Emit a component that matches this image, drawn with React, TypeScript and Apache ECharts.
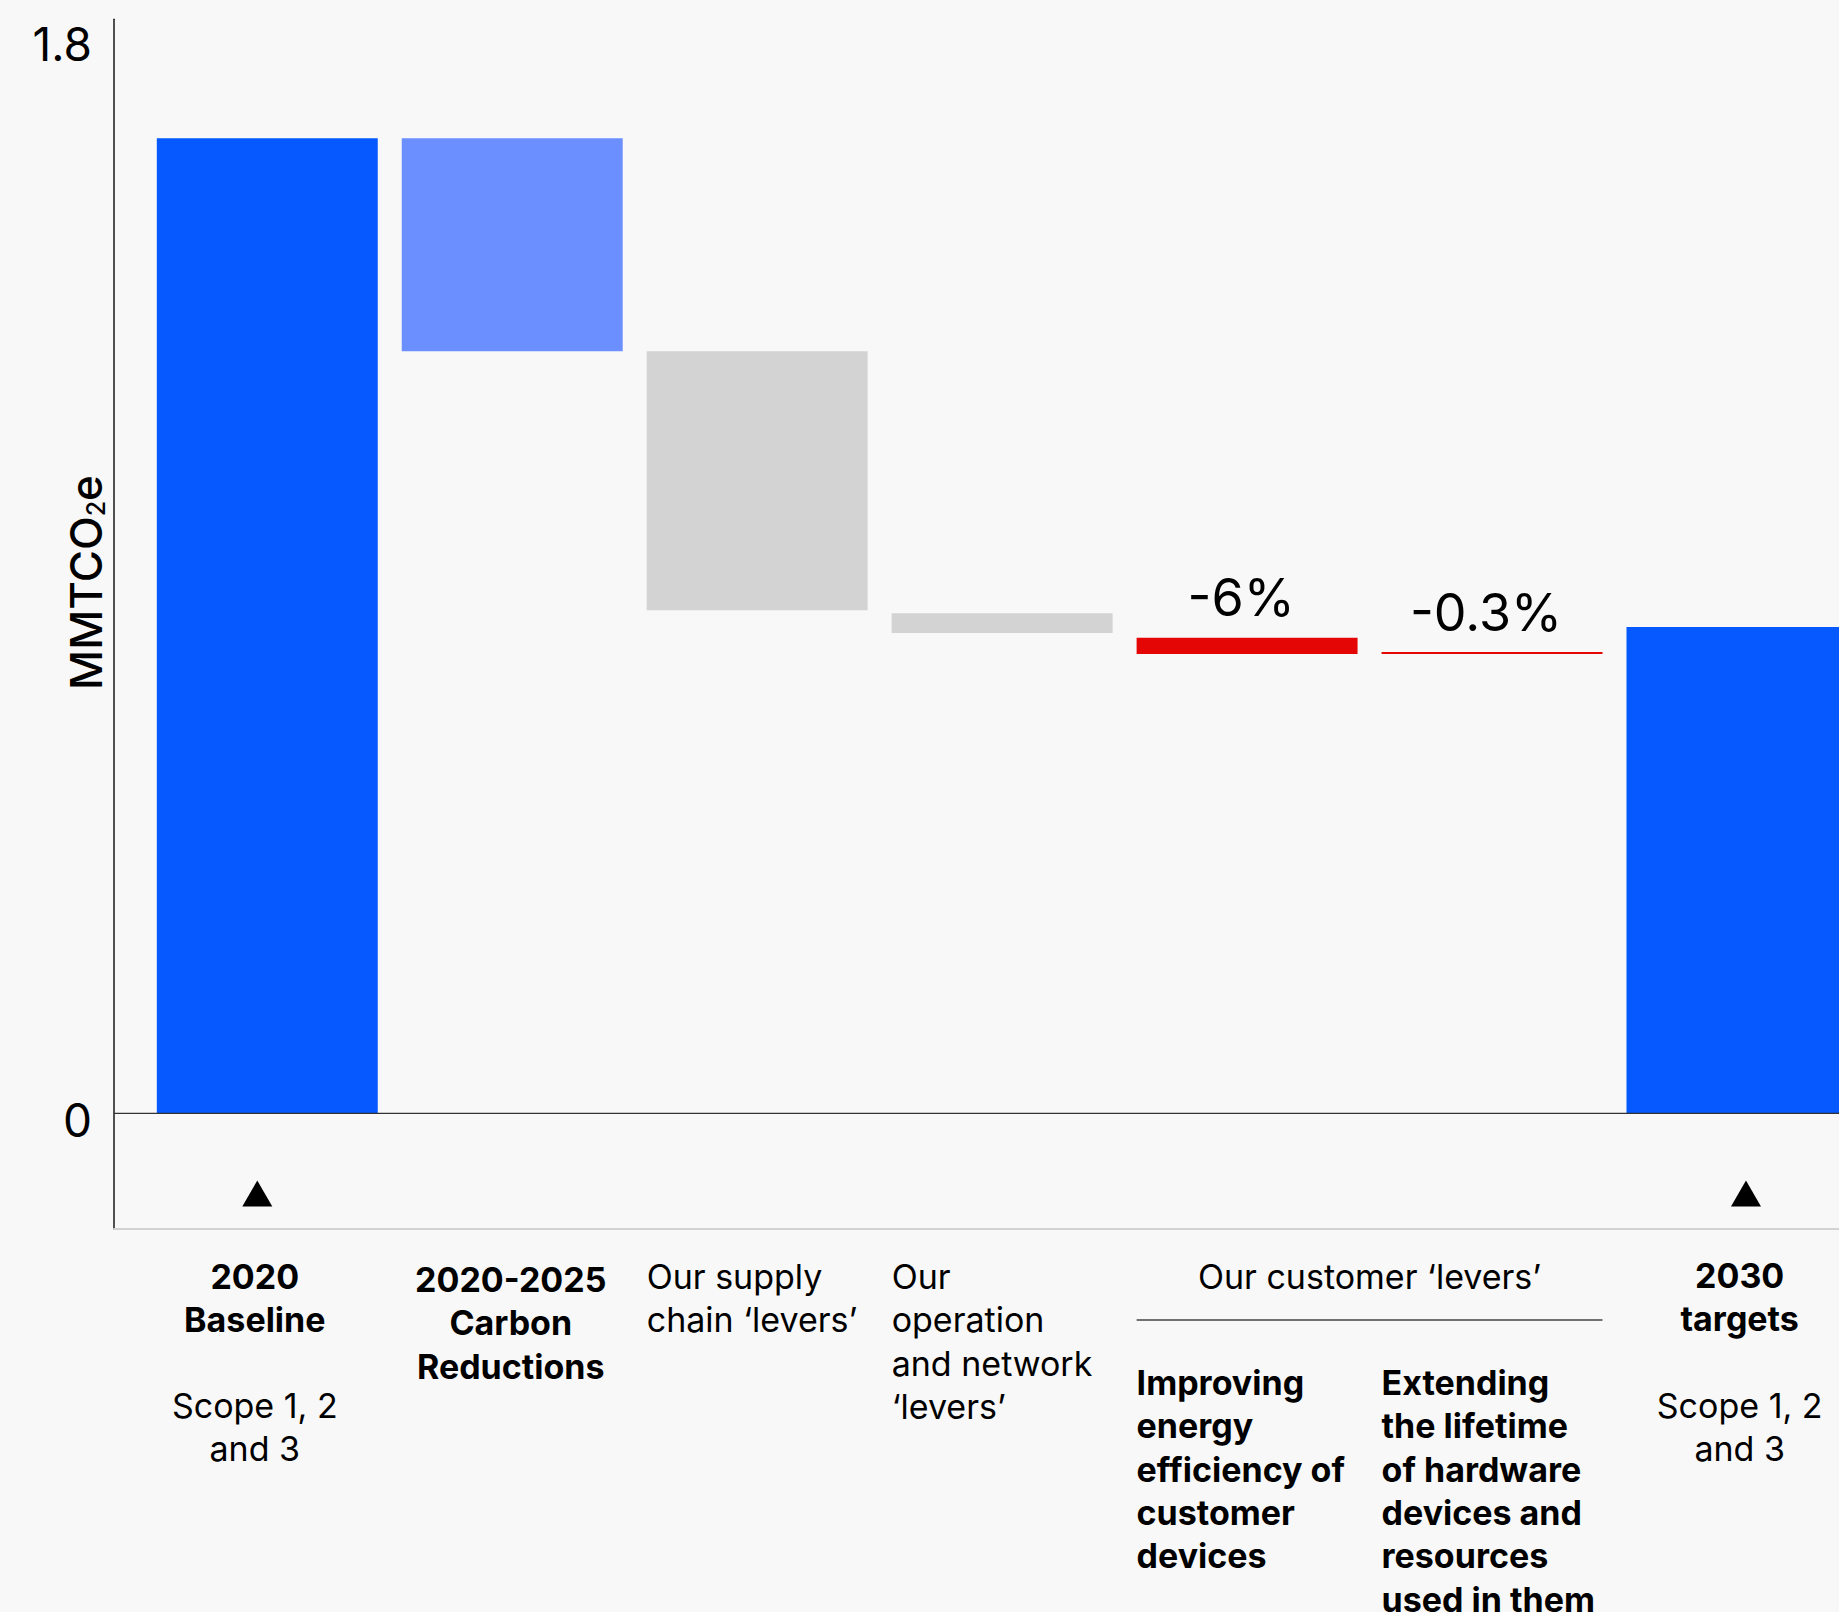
import React, { useEffect, useRef } from "react";
import * as echarts from "echarts";

// ---------- data ----------
const categories = [
  "2020 Baseline",
  "2020-2025 Carbon Reductions",
  "Our supply chain ‘levers’",
  "Our operation and network ‘levers’",
  "Improving energy efficiency of customer devices",
  "Extending the lifetime of hardware devices and resources used in them",
  "2030 targets",
];
const barTop = [1.63, 1.63, 1.274, 0.836, 0.795, 0.771, 0.813];
const barBottom = [0, 1.274, 0.841, 0.803, 0.768, 0.768, 0];
const barColors = ["#0559ff", "#6b8fff", "#d3d3d3", "#d3d3d3", "#e40505", "#e40505", "#0559ff"];
const barLabels = ["", "", "", "", "-6%", "-0.3%", ""];
const yTickValues = [0, 1.8];
const yTickLabels = ["0", "1.8"];
const markerCategories = [0, 6];
const markerValue = -0.134;
const catTitleLines = [
  ["2020", "Baseline"],
  ["2020-2025", "Carbon", "Reductions"],
  ["Our supply", "chain ‘levers’"],
  ["Our", "operation", "and network", "‘levers’"],
  ["Improving", "energy", "efficiency of", "customer", "devices"],
  ["Extending", "the lifetime", "of hardware", "devices and", "resources", "used in them"],
  ["2030", "targets"],
];
const scopeLines = ["Scope 1, 2", "and 3"];
const scopeCategories = [0, 6];
const groupHeader = "Our customer ‘levers’";
const groupCategories = [4, 5];
const yNameParts = ["MMTCO", "2", "e"];

// ---------- styles / layout ----------
const BG = "#f8f8f8";
const FONT = "Inter";
const X_MIN = -0.6258;
const X_MAX = 6.4165;
const Y_MIN = -0.1934;
const Y_MAX = 1.8288;
const BAR_RATIO = 0.902;

export default function App() {
  const ref = useRef<HTMLDivElement>(null);
  useEffect(() => {
    document.body.style.margin = "0";
    document.body.style.background = BG;
    document.body.style.overflow = "hidden";
    const chart = echarts.init(ref.current!, null, { renderer: "svg" });

    const option: any = {
      animation: false,
      backgroundColor: BG,
      grid: { left: 114, right: 0, top: 19.3, bottom: 383, containLabel: false, outerBoundsMode: "none" },
      xAxis: {
        type: "value",
        min: X_MIN,
        max: X_MAX,
        axisLine: { show: true, onZero: false, lineStyle: { color: "#d2d2d2", width: 2 } },
        axisTick: { show: false },
        axisLabel: { show: false },
        splitLine: { show: false },
      },
      yAxis: {
        type: "value",
        min: Y_MIN,
        max: Y_MAX,
        axisLine: { show: true, onZero: false, lineStyle: { color: "#1a1a1a", width: 1.5 } },
        axisTick: { show: false },
        splitLine: { show: false },
        axisLabel: {
          customValues: yTickValues,
          formatter: (v: number) => {
            const k = yTickValues.indexOf(v);
            return k >= 0 ? yTickLabels[k] : String(v);
          },
          fontSize: 46,
          fontFamily: FONT,
          color: "#000",
          margin: 22,
          verticalAlign: "top",
          lineHeight: 14,
        },
      },
      series: [
        {
          type: "custom",
          name: "bars",
          silent: true,
          data: categories.map((_, i) => [i, barBottom[i], barTop[i]]),
          renderItem: (params: any, api: any) => {
            const i = params.dataIndex;
            const x = api.value(0);
            const lo = api.coord([x, api.value(1)]);
            const hi = api.coord([x, api.value(2)]);
            const w = api.size([1, 0])[0] * BAR_RATIO;
            const el: any = {
              type: "rect",
              shape: { x: lo[0] - w / 2, y: hi[1], width: w, height: lo[1] - hi[1] },
              style: { fill: barColors[i] },
            };
            if (barLabels[i]) {
              el.textContent = {
                type: "text",
                style: { text: barLabels[i], fontSize: 52, fontFamily: FONT, fill: "#000" },
              };
              el.textConfig = { position: "top", distance: 14, offset: [-6, 0] };
            }
            return el;
          },
        },
        {
          type: "line",
          name: "zero",
          silent: true,
          symbol: "none",
          data: [
            [X_MIN, 0],
            [X_MAX, 0],
          ],
          lineStyle: { color: "#333", width: 1.3 },
          z: 5,
        },
        {
          type: "scatter",
          name: "markers",
          silent: true,
          symbol: "triangle",
          symbolSize: [30, 26],
          itemStyle: { color: "#000", opacity: 1 },
          data: markerCategories.map((c, k) => ({
            value: [c, markerValue],
            symbolOffset: [k === 0 ? -10 : 9, 0],
          })),
        },
      ],
    };
    chart.setOption(option);

    const px = (i: number) => (chart.convertToPixel({ gridIndex: 0 }, [i, 0]) as number[])[0];
    const unit = px(1) - px(0);
    const bw = unit * BAR_RATIO;
    const LH = 43.3;
    const boldIdx = [0, 1, 4, 5, 6];
    const leftIdx = [2, 3, 4, 5];
    const titleTop = [1255, 1258, 1255, 1255, 1361, 1361, 1253.5];
    const centerDx = [-12.5, -1.5, 0, 0, 0, 0, 2.7];

    const els: any[] = [];
    catTitleLines.forEach((lines, i) => {
      const left = leftIdx.includes(i);
      els.push({
        type: "text",
        x: left ? px(i) - bw / 2 : px(i) + centerDx[i],
        y: titleTop[i],
        silent: true,
        style: {
          text: lines.join("\n"),
          fontSize: 34,
          fontFamily: FONT,
          fontWeight: boldIdx.includes(i) ? 700 : 400,
          fill: "#000",
          align: left ? "left" : "center",
          verticalAlign: "top",
          lineHeight: LH,
        },
      });
    });
    scopeCategories.forEach((i) => {
      els.push({
        type: "text",
        x: px(i) + centerDx[i],
        y: 1383.4,
        silent: true,
        style: {
          text: scopeLines.join("\n"),
          fontSize: 34,
          fontFamily: FONT,
          fontWeight: 400,
          fill: "#000",
          align: "center",
          verticalAlign: "top",
          lineHeight: LH,
        },
      });
    });
    const g0 = px(groupCategories[0]) - bw / 2;
    const g1 = px(groupCategories[1]) + bw / 2;
    els.push({
      type: "text",
      x: (g0 + g1) / 2,
      y: 1254.5,
      silent: true,
      style: {
        text: groupHeader,
        fontSize: 34,
        fontFamily: FONT,
        fontWeight: 400,
        fill: "#000",
        align: "center",
        verticalAlign: "top",
        lineHeight: LH,
      },
    });
    els.push({
      type: "line",
      silent: true,
      shape: { x1: g0, y1: 1320, x2: g1, y2: 1320 },
      style: { stroke: "#444", lineWidth: 1.5 },
    });
    els.push({
      type: "text",
      x: 86,
      y: 582.5,
      rotation: Math.PI / 2,
      silent: true,
      style: {
        text: `{a|${yNameParts[0]}}{s|${yNameParts[1]}}{a|${yNameParts[2]}}`,
        align: "center",
        verticalAlign: "middle",
        rich: {
          a: { fontSize: 44, fontFamily: FONT, fontWeight: 500, fill: "#000", lineHeight: 44 },
          s: { fontSize: 25, fontFamily: FONT, fontWeight: 500, fill: "#000", verticalAlign: "bottom", lineHeight: 25 },
        },
      },
    });
    chart.setOption({ graphic: els });

    return () => chart.dispose();
  }, []);
  return <div ref={ref} style={{ width: 1839, height: 1612 }} />;
}
